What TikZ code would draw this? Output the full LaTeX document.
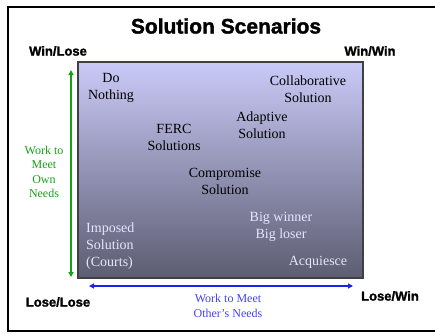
\documentclass[tikz,border=0pt]{standalone}
\usepackage{fontspec}
\setmainfont{Liberation Serif}
\setsansfont{Liberation Sans}
\newfontfamily\heavysans[BoldFeatures={FakeBold=1.6}]{Liberation Sans}
\usetikzlibrary{arrows.meta}

\definecolor{boxtop}{HTML}{CACAF8}
\definecolor{boxbot}{HTML}{5C5C72}
\definecolor{owngreen}{HTML}{17A017}
\definecolor{othblue}{HTML}{2020EE}

\tikzset{
  corner/.style={font=\heavysans\bfseries\fontsize{13}{15}\selectfont},
  scen/.style={align=center,inner sep=0pt,font=\fontsize{14}{17}\selectfont},
  lowscen/.style={scen,text=white!90!blue},
  axislbl/.style={align=center,inner sep=0pt,font=\fontsize{12}{14.5}\selectfont},
  axisarrow/.style={line width=1.8pt,{Triangle[width=5pt,length=5pt]}-{Triangle[width=5pt,length=5pt]}}
}

\begin{document}
\begin{tikzpicture}[x=1pt,y=-1pt]
\useasboundingbox (0,0) rectangle (435,333);
\draw[line width=2pt] (8,7) rectangle (450,331);
\shade[top color=boxtop,bottom color=boxbot,draw=black!75,line width=1.2pt] (78,62) rectangle (363,278);

\node[font=\heavysans\bfseries\fontsize{21}{24}\selectfont] (title) at (226,26) {Solution Scenarios};
\node[corner] (winlose) at (58,51) {Win/Lose};
\node[corner] (winwin) at (370,51) {Win/Win};
\node[corner] (loselose) at (58,302) {Lose/Lose};
\node[corner] (losewin) at (390,296) {Lose/Win};

% scenarios in the box
\node[scen] (nothing) at (111,88) {Do\\Nothing};
\node[scen] (collab) at (308,89) {Collaborative\\Solution};
\node[scen] (adaptive) at (262,125) {Adaptive\\Solution};
\node[scen] (ferc) at (174,137) {FERC\\Solutions};
\node[scen] (compromise) at (225,181) {Compromise\\Solution};
\node[lowscen,align=left,anchor=west] (imposed) at (86,246) {Imposed\\Solution\\(Courts)};
\node[lowscen] (bigwinner) at (281,227) {Big winner\\Big loser};
\node[lowscen] (acquiesce) at (318,262) {Acquiesce};

% axes
\coordinate (owntop) at (71,70);
\coordinate (ownbot) at (71,277);
\draw[axisarrow,owngreen] (owntop) -- (ownbot);
\node[axislbl,text=owngreen] (ownlbl) at (44,172) {Work to\\Meet\\Own\\Needs};
\coordinate (othleft) at (89,286);
\coordinate (othright) at (353,286);
\draw[axisarrow,othblue] (othleft) -- (othright);
\node[axislbl,text=othblue!85!white] (othlbl) at (228,306) {Work to Meet\\Other’s Needs};
\end{tikzpicture}
\end{document}
